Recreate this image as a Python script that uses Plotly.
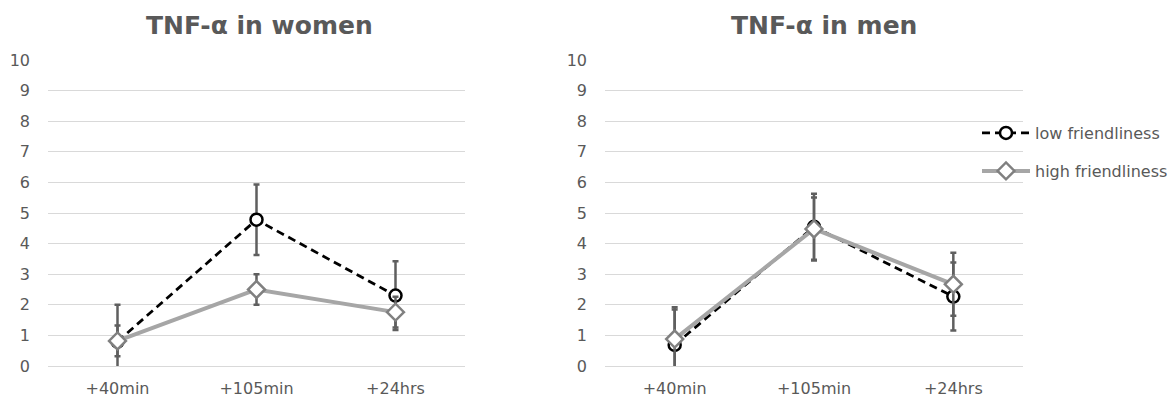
import plotly.graph_objects as go

W, H = 1176, 401

categories = ["+40min", "+105min", "+24hrs"]
y_ticks = [0, 1, 2, 3, 4, 5, 6, 7, 8, 9, 10]

series_names = ["low friendliness", "high friendliness"]

women_low = [0.80, 4.78, 2.30]
women_low_err = [1.20, 1.15, 1.12]
women_high = [0.82, 2.50, 1.76]
women_high_err = [0.50, 0.50, 0.50]

men_low = [0.69, 4.55, 2.27]
men_low_err = [1.16, 1.08, 1.11]
men_high = [0.88, 4.48, 2.67]
men_high_err = [1.04, 1.03, 1.03]

titles = ["TNF-α in women", "TNF-α in men"]

TEXT = "#595959"
GRID = "#d9d9d9"
ERR = "#5f5f5f"
FONT = "DejaVu Sans"

fig = go.Figure()

def px_x(p):
    return p / W

def px_y(p):
    return 1 - p / H

def add_pair(low, low_err, high, high_err, xa, ya, show):
    fig.add_trace(go.Scatter(
        x=categories, y=low, name=series_names[0], mode="lines+markers",
        xaxis=xa, yaxis=ya, showlegend=show, legend="legend",
        line=dict(color="#000000", width=2.75, dash="8px,5px"),
        marker=dict(symbol="circle", size=12, color="#ffffff",
                    line=dict(color="#000000", width=2.5)),
        error_y=dict(type="data", array=low_err, arrayminus=low_err,
                     symmetric=False, color=ERR, thickness=2.5, width=3),
    ))
    fig.add_trace(go.Scatter(
        x=categories, y=high, name=series_names[1], mode="lines+markers",
        xaxis=xa, yaxis=ya, showlegend=show, legend="legend2",
        line=dict(color="#a6a6a6", width=4),
        marker=dict(symbol="diamond", size=13, color="#ffffff",
                    line=dict(color="#808080", width=2.5)),
        error_y=dict(type="data", array=high_err, arrayminus=high_err,
                     symmetric=False, color=ERR, thickness=2.5, width=3),
    ))

add_pair(women_low, women_low_err, women_high, women_high_err, "x", "y", False)
add_pair(men_low, men_low_err, men_high, men_high_err, "x2", "y2", True)

ydom = [px_y(366), px_y(60)]

def xaxis(dom):
    return dict(domain=dom, type="category", range=[-0.5, 2.5],
                showgrid=False, zeroline=False, showline=False,
                ticks="", tickfont=dict(family=FONT, size=16, color=TEXT),
                ticklabelstandoff=11, automargin=False, fixedrange=True)

def yaxis(anchor):
    return dict(domain=ydom, range=[0, 10], tickvals=y_ticks,
                showgrid=True, gridcolor=GRID, gridwidth=1,
                zeroline=True, zerolinecolor=GRID, zerolinewidth=1,
                showline=False, ticks="", anchor=anchor,
                tickfont=dict(family=FONT, size=16, color=TEXT),
                ticklabelstandoff=17, automargin=False, fixedrange=True)

fig.update_layout(
    width=W, height=H,
    margin=dict(l=0, r=0, t=0, b=0),
    paper_bgcolor="#ffffff", plot_bgcolor="#ffffff",
    xaxis=xaxis([px_x(48), px_x(465)]),
    yaxis=yaxis("x"),
    xaxis2=xaxis([px_x(605), px_x(1023)]),
    yaxis2=yaxis("x2"),
    legend=dict(x=px_x(977), y=px_y(133), xanchor="left", yanchor="middle",
                itemwidth=48, font=dict(family=FONT, size=16, color=TEXT),
                bgcolor="rgba(0,0,0,0)"),
    legend2=dict(x=px_x(977), y=px_y(171), xanchor="left", yanchor="middle",
                 itemwidth=48, font=dict(family=FONT, size=16, color=TEXT),
                 bgcolor="rgba(0,0,0,0)"),
    annotations=[
        dict(text="<b>%s</b>" % titles[0], x=px_x(259), y=px_y(25),
             xref="paper", yref="paper", xanchor="center", yanchor="middle",
             showarrow=False, font=dict(family=FONT, size=25, color=TEXT)),
        dict(text="<b>%s</b>" % titles[1], x=px_x(824), y=px_y(25),
             xref="paper", yref="paper", xanchor="center", yanchor="middle",
             showarrow=False, font=dict(family=FONT, size=25, color=TEXT)),
    ],
)

fig.write_html("out.html",
               config={"displayModeBar": False},
               post_script="document.body.style.margin='0';document.body.style.overflow='hidden';")
